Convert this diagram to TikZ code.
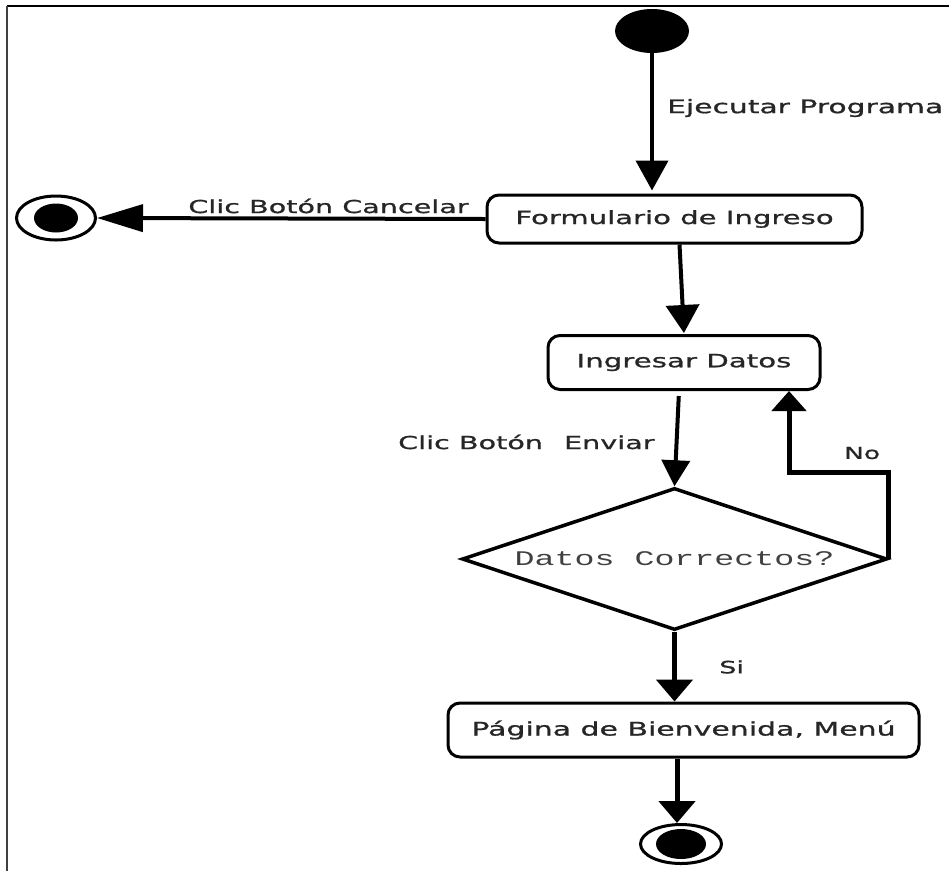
\documentclass[tikz,border=0pt]{standalone}
\usepackage{fontspec}
\usetikzlibrary{arrows.meta,shapes.geometric}
\newfontfamily\labfont[FakeStretch=1.6,FakeBold=1]{DejaVu Sans}
\newfontfamily\decfont[FakeStretch=1.6]{Liberation Mono}
\newcommand{\fs}[1]{\fontsize{#1}{#1}\selectfont}
\begin{document}
\begin{tikzpicture}[x=1pt,y=-1pt,
  state/.style={draw, rounded corners=12pt, line width=3pt, inner sep=0pt, text=black!85},
  lab/.style={text=black!85, inner sep=0pt},
  flow/.style={line width=4pt},
  startdot/.style={ellipse, fill=black, inner sep=0pt},
  endring/.style={ellipse, draw, line width=3pt, inner sep=0pt},
]
\useasboundingbox (0,0) rectangle (949,871);
\fill[white] (0,0) rectangle (949,871);
\draw[line width=2pt] (7,6) -- (949,6);
\draw[line width=1.8pt, black!75] (7,6) -- (7,871);

% nodes
\node[startdot, minimum width=74pt, minimum height=44pt] (start) at (652,31) {};
\node[state, minimum width=375pt, minimum height=48pt, font={\labfont\fs{18.2}}] (form) at (674.5,219) {Formulario de Ingreso};
\node[state, minimum width=272pt, minimum height=54pt, font={\labfont\fs{18.3}}] (ing) at (684,362.5) {Ingresar Datos};
\node[diamond, draw, line width=3.5pt, minimum width=425pt, minimum height=142pt, inner sep=0pt] (dec) at (674.5,559) {};
\node[lab, text=black!75, font={\decfont\fs{20.8}}] (dectext) at (dec) {Datos Correctos?};
\node[state, minimum width=471pt, minimum height=54pt, font={\labfont\fs{18.7}}] (pag) at (683.5,730) {Página de Bienvenida, Menú};

\node[endring, minimum width=79pt, minimum height=44pt] (endA) at (56,218) {};
\node[startdot, minimum width=44pt, minimum height=29pt] (endAdot) at (endA) {};
\node[endring, minimum width=81pt, minimum height=39pt] (endB) at (681,844) {};
\node[startdot, minimum width=50pt, minimum height=30pt] (endBdot) at (endB) {};

\coordinate (nocorner) at (789,472);

% connectors
\draw[flow, shorten >=3pt, -{Triangle[length=30pt,width=32pt]}] (start) -- (start |- form.north);
\draw[flow, -{Triangle[length=46pt,width=27pt]}] (form.west) -- (endA.east);
\draw[flow, shorten >=1pt, -{Triangle[length=28pt,width=33pt]}] ([xshift=5pt]form.south) -- (ing.north);
\draw[flow, shorten <=5pt, -{Triangle[length=26pt,width=28pt]}] ([xshift=-5pt]ing.south) -- (dec.north);
\draw[line width=5pt, -{Triangle[length=20pt,width=34pt]}] (dec.east) -- (dec.east |- nocorner) -- (nocorner) -- (nocorner |- ing.south);
\draw[line width=5pt, -{Triangle[length=22pt,width=36pt]}] (dec.south) -- (dec.south |- pag.north);
\draw[line width=5pt, -{Triangle[length=22pt,width=36pt]}] ([xshift=-4pt]pag.south -| endB.north) -- ([xshift=-4pt]endB.north);

% labels
\node[lab, anchor=west, font={\labfont\fs{18.6}}] (ejec) at (667,108) {Ejecutar Programa};
\node[lab, font={\labfont\fs{17.9}}] (cancel) at (328.5,206) {Clic Botón Cancelar};
\node[lab, anchor=west, font={\labfont\fs{17.9}}] (enviar) at (398,442) {Clic Botón\hspace{21pt}Enviar};
\node[lab, anchor=west, font={\labfont\fs{16.5}}] (nolab) at (844,453) {No};
\node[lab, anchor=west, font={\labfont\fs{17}}] (si) at (719,667) {Si};
\end{tikzpicture}
\end{document}
